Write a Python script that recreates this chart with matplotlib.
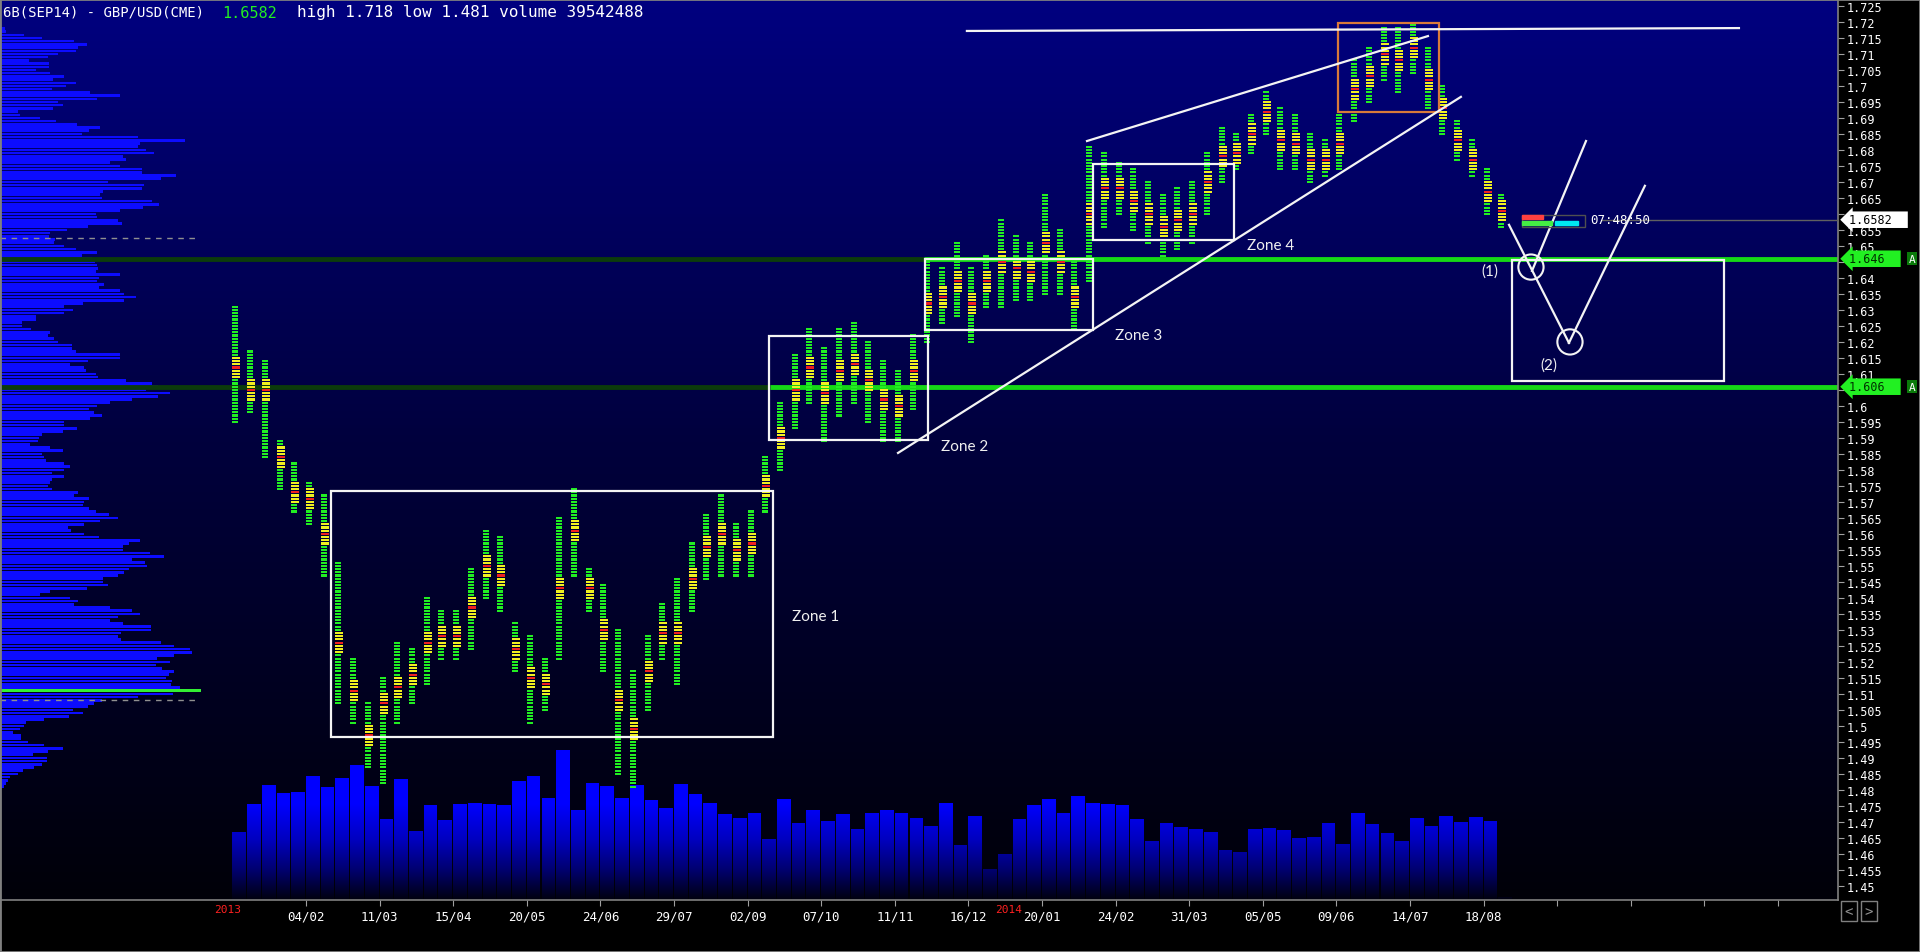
import numpy as np
import matplotlib
matplotlib.use("Agg")
import matplotlib.pyplot as plt
from matplotlib.colors import LinearSegmentedColormap
from matplotlib.path import Path
from matplotlib.patches import Rectangle
from matplotlib import transforms

MONO = "DejaVu Sans Mono"

# weekly market profile columns, week 0 = week of 04/02/2013
first_week = -5
week_high = [1.6315, 1.6174, 1.6143, 1.5887, 1.5818, 1.5760, 1.5722, 1.5512, 1.5206, 1.5072,
             1.5150, 1.5263, 1.5244, 1.5397, 1.5359, 1.5359, 1.5493, 1.5607, 1.5588, 1.5320,
             1.5282, 1.5206, 1.5646, 1.5741, 1.5493, 1.5435, 1.5301, 1.5167, 1.5282, 1.5378,
             1.5455, 1.5569, 1.5665, 1.5722, 1.5627, 1.5665, 1.5837, 1.6009, 1.6162, 1.6239,
             1.6181, 1.6239, 1.6258, 1.6200, 1.6143, 1.6105, 1.6220, 1.6449, 1.6430, 1.6507,
             1.6430, 1.6468, 1.6583, 1.6526, 1.6507, 1.6660, 1.6545, 1.6449, 1.6813, 1.6794,
             1.6755, 1.6736, 1.6698, 1.6660, 1.6679, 1.6698, 1.6794, 1.6870, 1.6851, 1.6908,
             1.6985, 1.6928, 1.6908, 1.6851, 1.6832, 1.6908, 1.7081, 1.7119, 1.7176, 1.7176,
             1.7188, 1.7119, 1.7004, 1.6889, 1.6832, 1.6736, 1.6660]
week_low = [1.5952, 1.5982, 1.5837, 1.5741, 1.5665, 1.5627, 1.5473, 1.5072, 1.5014, 1.4869,
            1.4819, 1.5014, 1.5072, 1.5129, 1.5206, 1.5206, 1.5244, 1.5397, 1.5359, 1.5167,
            1.5014, 1.5053, 1.5206, 1.5473, 1.5359, 1.5167, 1.4850, 1.4814, 1.5053, 1.5206,
            1.5129, 1.5359, 1.5455, 1.5473, 1.5473, 1.5473, 1.5665, 1.5799, 1.5933, 1.6009,
            1.5895, 1.5971, 1.6009, 1.5952, 1.5895, 1.5895, 1.5990, 1.6200, 1.6258, 1.6277,
            1.6200, 1.6315, 1.6315, 1.6334, 1.6334, 1.6354, 1.6354, 1.6239, 1.6392, 1.6564,
            1.6602, 1.6545, 1.6507, 1.6468, 1.6487, 1.6507, 1.6602, 1.6698, 1.6736, 1.6794,
            1.6851, 1.6736, 1.6736, 1.6698, 1.6717, 1.6736, 1.6889, 1.6947, 1.7023, 1.6985,
            1.7042, 1.6928, 1.6851, 1.6774, 1.6717, 1.6602, 1.6564]
week_poc = [1.612, 1.605, 1.605, 1.584, 1.573, 1.571, 1.560, 1.526, 1.511, 1.497,
            1.507, 1.512, 1.516, 1.526, 1.528, 1.528, 1.537, 1.550, 1.547, 1.524,
            1.515, 1.513, 1.543, 1.561, 1.543, 1.530, 1.508, 1.499, 1.517, 1.529,
            1.529, 1.546, 1.556, 1.560, 1.555, 1.557, 1.575, 1.590, 1.605, 1.612,
            1.604, 1.611, 1.613, 1.608, 1.602, 1.600, 1.611, 1.632, 1.634, 1.639,
            1.632, 1.639, 1.645, 1.643, 1.642, 1.651, 1.645, 1.634, 1.660, 1.668,
            1.668, 1.664, 1.660, 1.656, 1.658, 1.660, 1.670, 1.678, 1.679, 1.685,
            1.692, 1.683, 1.682, 1.677, 1.677, 1.682, 1.699, 1.703, 1.710, 1.708,
            1.712, 1.702, 1.693, 1.683, 1.677, 1.667, 1.661]

weekly_volume = [68, 96, 115, 107, 108, 124, 113, 122, 135, 114,
                 81, 121, 69, 95, 80, 96, 97, 96, 95, 119,
                 124, 102, 150, 90, 117, 114, 102, 115, 100, 92,
                 116, 106, 97, 86, 82, 87, 61, 101, 77, 90,
                 79, 86, 71, 87, 90, 87, 82, 74, 97, 55,
                 84, 31, 46, 81, 95, 101, 87, 104, 97, 96,
                 95, 81, 59, 77, 73, 71, 68, 50, 48, 71,
                 72, 70, 62, 63, 77, 56, 87, 76, 67, 59,
                 82, 74, 84, 78, 83, 79, 3]

# composite volume profile (left), one row per 0.001 from 1.718 down to 1.481
profile_high = 1.718
profile_low = 1.481
profile_volume = [4, 5, 23, 41, 73, 86, 77, 75, 57, 47,
                  28, 48, 48, 35, 49, 63, 52, 75, 65, 51,
                  89, 119, 96, 57, 62, 52, 17, 19, 39, 55,
                  76, 99, 88, 81, 137, 184, 139, 137, 145, 153,
                  122, 125, 109, 119, 141, 141, 175, 160, 107, 143,
                  141, 102, 99, 101, 151, 158, 142, 119, 95, 96,
                  117, 121, 87, 66, 49, 48, 54, 53, 63, 75,
                  96, 81, 91, 94, 96, 97, 95, 119, 98, 96,
                  103, 98, 119, 123, 135, 123, 82, 63, 72, 63,
                  35, 35, 21, 21, 30, 49, 47, 53, 57, 71,
                  71, 75, 119, 119, 87, 69, 83, 85, 95, 97,
                  125, 151, 157, 145, 169, 157,
                  131, 109, 96, 88, 93, 101, 89, 63, 63, 76,
                  62, 41, 38, 37, 29, 49, 62, 41, 43, 45,
                  63, 69, 63, 51, 63, 51, 49, 47, 51, 77,
                  73, 88, 83, 82, 88, 95, 108, 117, 99, 83,
                  67, 70, 83, 98, 139, 128, 122, 122, 149, 163,
                  131, 144, 146, 128, 123, 117, 102, 102, 107, 86,
                  49, 39, 69, 77, 73, 109, 131, 139, 117, 109,
                  122, 150, 150, 120, 117, 120, 160, 173, 189, 191,
                  173, 156, 169, 155, 161, 173, 168, 165, 171, 170,
                  179, 200, 172, 137, 101, 93, 87, 72, 82, 68,
                  43, 25, 23, 19, 12, 20, 20, 27, 43, 62,
                  47, 32, 46, 46, 41, 33, 22, 17, 9, 7,
                  5, 3]
profile_poc_index = 207
profile_value_area = [1.6525, 1.5081]

# axis labels
date_ticks = list(range(0, 101, 5))
date_labels = ['04/02', '11/03', '15/04', '20/05', '24/06', '29/07', '02/09', '07/10',
               '11/11', '16/12', '20/01', '24/02', '31/03', '05/05', '09/06', '14/07',
               '18/08', '', '', '', '']
year_labels = ['2013', '2014']
year_weeks = [-5.3, 47.7]
price_ticks = np.round(np.arange(1.45, 1.7251, 0.005), 3)

# levels and drawings
last_price = 1.6582
support_levels = [1.646, 1.606]
support_bright_from = [42.0, 31.5]
zone_boxes = [(1.7, 31.7, 1.4966, 1.5734), (31.45, 42.26, 1.5894, 1.6219),
              (42.05, 53.46, 1.6238, 1.6459), (53.46, 63.04, 1.6519, 1.6756)]
zone_names = ['Zone 1', 'Zone 2', 'Zone 3', 'Zone 4']
zone_label_pos = [(34.65, 1.5344), (44.77, 1.5875), (56.59, 1.6222), (65.56, 1.6503)]
top_box = (70.1, 76.97, 1.6919, 1.7197)
target_box = (81.93, 96.33, 1.6078, 1.6456)
trend_lines = [((44.9, 1.7172), (97.35, 1.7181)),
               ((53.06, 1.6828), (76.22, 1.7156)),
               ((40.22, 1.5853), (78.46, 1.6966)),
               ((81.73, 1.6566), (85.80, 1.6197)),
               ((83.29, 1.6422), (86.96, 1.6828)),
               ((85.80, 1.6197), (90.96, 1.6688))]
circle_pts = [(83.22, 1.6434), (85.87, 1.6200)]
point_labels = [('(1)', 80.43, 1.6422), ('(2)', 84.44, 1.6128)]

xlim = (-20.79, 104.08)
ylim = (1.44556, 1.72719)
rect = [0, 52 / 953, 1838 / 1920, 901 / 953]

fig = plt.figure(figsize=(19.2, 9.53), dpi=100, facecolor='black')

# background gradient
ax_bg = fig.add_axes(rect)
ax_bg.set_axis_off()
bg = LinearSegmentedColormap.from_list('bg', ['#000008', '#00003c', '#000080'])
ax_bg.imshow(np.linspace(0, 1, 256)[:, None], extent=[0, 1, 0, 1], transform=ax_bg.transAxes,
             cmap=bg, aspect='auto', origin='lower')

# weekly volume with vertical gradient
ax_v = fig.add_axes(rect, facecolor='none')
ax_v.set_axis_off()
ax_v.set_xlim(xlim)
ax_v.set_ylim(0, 901)
weeks = np.arange(first_week, first_week + len(weekly_volume))
bars = ax_v.bar(weeks, weekly_volume, width=0.93, align='edge', color='none', edgecolor='none')
clip = Path.make_compound_path(*[b.get_path().transformed(b.get_patch_transform()) for b in bars])
vcm = LinearSegmentedColormap.from_list('vol', [(0, '#00000e'), (0.19, '#000070'), (0.38, '#0000c0'),
                                                (0.6, '#0000ff'), (1, '#0000ff')])
img = ax_v.imshow(np.linspace(0, 1, 256)[:, None], extent=[xlim[0], xlim[1], 0, 160],
                  cmap=vcm, aspect='auto', origin='lower')
img.set_clip_path(clip, ax_v.transData)
ax_v.set_xlim(xlim)
ax_v.set_ylim(0, 901)

# composite profile on the left
ax_p = fig.add_axes(rect, facecolor='none')
ax_p.set_axis_off()
levels = np.linspace(profile_high, profile_low, len(profile_volume))
cols = ['#0c0cff'] * len(profile_volume)
cols[profile_poc_index] = '#33ee33'
ax_p.barh(levels, profile_volume, height=0.0008, left=1, color=cols)
ax_p.hlines(profile_value_area, 0, 200, colors='#909090', linestyles=(0, (4, 4)), lw=1)
ax_p.set_xlim(0, 1838)
ax_p.set_ylim(ylim)

# main axes
ax = fig.add_axes(rect, facecolor='none')
ax.set_xlim(xlim)
ax.set_ylim(ylim)

for lv, xb in zip(support_levels, support_bright_from):
    ax.hlines(lv, xlim[0], xb, color='#0c3c0c', lw=3.5, zorder=1)
    ax.hlines(lv, xb, xlim[1], color='#16d816', lw=3.5, zorder=1)

# market profile columns
px_w = (xlim[1] - xlim[0]) / 1838
gy, gx, gw = [], [], []
yy, yx, yw = [], [], []
ry, rx, rw = [], [], []
for k, (lo, hi, poc) in enumerate(zip(week_low, week_high, week_poc)):
    x0 = first_week + k
    for lv in np.round(np.arange(round(lo, 3), hi + 0.0005, 0.001), 3):
        d = abs(lv - poc)
        if d < 0.0005:
            ry.append(lv); rx.append(x0); rw.append(8 * px_w)
        elif d <= 0.0035:
            yy.append(lv); yx.append(x0); yw.append(8 * px_w)
        else:
            gy.append(lv); gx.append(x0); gw.append(6 * px_w)
ax.barh(gy, gw, left=gx, height=0.00065, color='#22ee22', zorder=3)
ax.barh(yy, yw, left=yx, height=0.00065, color='#f0f020', zorder=3)
ax.barh(ry, rw, left=rx, height=0.00065, color='#f02020', zorder=3)

# drawings
for x0, x1, lo, hi in zone_boxes:
    ax.add_patch(Rectangle((x0, lo), x1 - x0, hi - lo, fill=False, ec='#f4f4f4', lw=1.6, zorder=5))
x0, x1, lo, hi = top_box
ax.add_patch(Rectangle((x0, lo), x1 - x0, hi - lo, fill=False, ec='#d97a3a', lw=1.6, zorder=5))
x0, x1, lo, hi = target_box
ax.add_patch(Rectangle((x0, lo), x1 - x0, hi - lo, fill=False, ec='#f4f4f4', lw=1.6, zorder=5))
for (a, b), (c, d) in trend_lines:
    ax.plot([a, c], [b, d], color='#f4f4f4', lw=1.6, zorder=5)
ax.scatter([p[0] for p in circle_pts], [p[1] for p in circle_pts], s=330, facecolors='none',
           edgecolors='#f4f4f4', linewidths=1.5, zorder=5)
for name, (x, y) in zip(zone_names, zone_label_pos):
    ax.text(x, y, name, color='#f0f0f0', fontsize=11, family='Lato', ha='center', va='center', zorder=6)
for t, x, y in point_labels:
    ax.text(x, y, t, color='#f0f0f0', fontsize=11, family='Lato', ha='center', va='center', zorder=6)

# last price widgets
ax.hlines(last_price, 88.0, xlim[1], color='#606060', lw=1, zorder=4)
ax.add_patch(Rectangle((82.61, 1.6560), 4.3, 0.0037, fill=False, ec='#505050', lw=1, zorder=5))
ax.add_patch(Rectangle((82.61, 1.6584), 1.43, 0.0012, color='#ff4040', zorder=6))
ax.add_patch(Rectangle((82.61, 1.6566), 2.04, 0.0012, color='#44ee44', zorder=6))
ax.add_patch(Rectangle((84.85, 1.6566), 1.56, 0.0012, color='#00e8f0', zorder=6))
ax.text(87.25, last_price, '07:48:50', color='white', family=MONO, fontsize=9, va='center', zorder=6)

# axes decoration
for s in ['top', 'left']:
    ax.spines[s].set_visible(False)
for s in ['bottom', 'right']:
    ax.spines[s].set_color('#808080')
    ax.spines[s].set_linewidth(1.2)
hidden = [round(v, 3) for v in support_levels] + [1.645, 1.605, 1.66]
ax.yaxis.tick_right()
ax.set_yticks(price_ticks)
ax.set_yticklabels(['' if v in hidden else f"{v:.3f}".rstrip('0').rstrip('.') for v in price_ticks])
ax.set_xticks(date_ticks)
ax.set_xticklabels(date_labels)
ax.tick_params(axis='y', colors='#a0a0a0', labelcolor='white', length=4, pad=2, labelsize=8.5)
ax.tick_params(axis='x', colors='#a0a0a0', labelcolor='white', length=4, pad=3, labelsize=9)
for lab in ax.get_yticklabels() + ax.get_xticklabels():
    lab.set_fontfamily(MONO)
ax.set_ylim(ylim)
ax.set_xlim(xlim)

bt = transforms.blended_transform_factory(ax.transData, ax.transAxes)
for t, w in zip(year_labels, year_weeks):
    ax.text(w, -0.004, t, transform=bt, color='#ff2020', family=MONO, fontsize=8, ha='center', va='top')

rt = transforms.blended_transform_factory(ax.transAxes, ax.transData)
for lv in support_levels:
    ax.text(1.006, lv, f"{lv:.3f}  ", transform=rt, color='#003000', family=MONO, fontsize=8.5,
            va='center', ha='left', clip_on=False, zorder=8,
            bbox=dict(boxstyle='larrow,pad=0.15', fc='#22f022', ec='none'))
    ax.text(1.0385, lv, 'A', transform=rt, color='white', family=MONO, fontsize=8,
            va='center', ha='left', clip_on=False, zorder=9,
            bbox=dict(boxstyle='square,pad=0.12', fc='#0a7a0a', ec='none'))
ax.text(1.006, last_price, f"{last_price:.4f}  ", transform=rt, color='black', family=MONO, fontsize=8.5,
        va='center', ha='left', clip_on=False, zorder=8,
        bbox=dict(boxstyle='larrow,pad=0.15', fc='white', ec='none'))

# scroll buttons under the price scale
for i, ch in enumerate('<>'):
    fig.text((1849 + 20 * i) / 1920, 1 - 912 / 953, ch, color='#909090', family=MONO, fontsize=10,
             ha='center', va='center',
             bbox=dict(boxstyle='square,pad=0.25', fc='black', ec='#808080', lw=1))

# header
fig.text(3 / 1920, 1 - 13 / 953, '6B(SEP14) - GBP/USD(CME)', color='white', family=MONO, fontsize=10, va='center')
fig.text(222 / 1920, 1 - 13 / 953, '1.6582', color='#22ee22', family=MONO, fontsize=11, va='center')
fig.text(297 / 1920, 1 - 13 / 953, 'high 1.718 low 1.481 volume 39542488', color='white', family=MONO,
         fontsize=11.5, va='center')

fig.add_artist(Rectangle((0, 0), 1, 1, transform=fig.transFigure, fill=False, ec='#808080', lw=2))

fig.savefig('out.png', dpi=100, facecolor='black')
